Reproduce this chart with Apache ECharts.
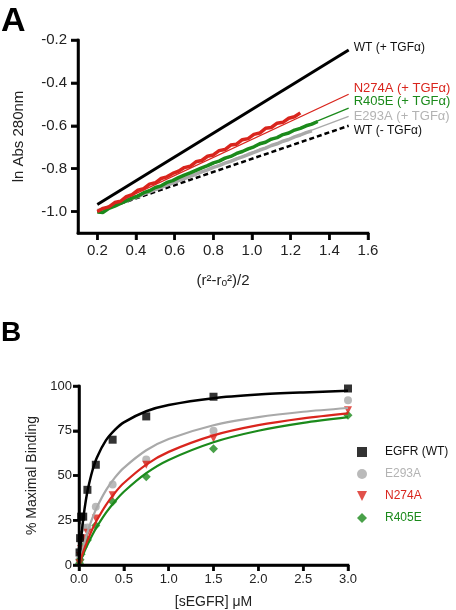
<!DOCTYPE html>
<html><head><meta charset="utf-8">
<script src="https://cdn.jsdelivr.net/npm/echarts@6.0.0/dist/echarts.min.js"></script>
<style>html,body{margin:0;padding:0;background:#fff}#wrap{position:relative;width:456px;height:610px}.layer{position:absolute;left:0;top:0;width:456px;height:610px}</style>
</head><body><div id="wrap"><div class="layer" id="axes"></div><div class="layer" id="marks"></div></div><script>
// ---------- Panel A data ----------
var aXRange = [0.1, 1.6];      // axis line extent
var aXTickRange = [0.2, 1.6];  // labelled tick extent
var aYRange = [-1.1, -0.2];
var aYTickRange = [-1.0, -0.2];
var aTickStep = 0.2;
var aXTicks = [0.2, 0.4, 0.6, 0.8, 1.0, 1.2, 1.4, 1.6];
var aYTicks = [-1.0, -0.8, -0.6, -0.4, -0.2];
var traceX = [0.20,0.23,0.26,0.29,0.32,0.35,0.38,0.41,0.44,0.47,0.50,0.53,0.56,0.59,0.62,0.65,0.68,0.71,0.74,0.77,0.80,0.83,0.86,0.89,0.92,0.95,0.98,1.01,1.04,1.07,1.10,1.13,1.16,1.19,1.22,1.25,1.28,1.31,1.34];
var redTrace = [-1.000,-0.985,-0.978,-0.958,-0.952,-0.930,-0.921,-0.900,-0.893,-0.872,-0.866,-0.846,-0.838,-0.822,-0.812,-0.795,-0.789,-0.768,-0.762,-0.742,-0.736,-0.716,-0.711,-0.690,-0.686,-0.665,-0.660,-0.640,-0.634,-0.612,-0.608,-0.588,-0.584,-0.565,-0.558,-0.540];
var greenTrace = [-1.002,-1.004,-0.985,-0.975,-0.962,-0.950,-0.937,-0.928,-0.912,-0.903,-0.888,-0.880,-0.864,-0.856,-0.842,-0.830,-0.820,-0.808,-0.796,-0.786,-0.773,-0.765,-0.751,-0.743,-0.729,-0.720,-0.708,-0.698,-0.684,-0.677,-0.662,-0.655,-0.641,-0.634,-0.620,-0.612,-0.600,-0.592,-0.580];
var grayTrace = [-0.995,-0.992,-0.978,-0.972,-0.958,-0.951,-0.938,-0.930,-0.918,-0.908,-0.898,-0.887,-0.877,-0.867,-0.856,-0.846,-0.836,-0.826,-0.815,-0.806,-0.794,-0.786,-0.774,-0.766,-0.754,-0.745,-0.734,-0.724,-0.713,-0.704,-0.692,-0.684,-0.672,-0.664,-0.652,-0.643,-0.632,-0.624];
var fitX = [0.2, 1.5];
var fitWTplus = [-0.967, -0.247];
var fitN274A = [-1.0, -0.453];
var fitR405E = [-1.0, -0.518];
var fitE293A = [-0.995, -0.556];
var fitWTminus = [-1.0, -0.600];
var aLabels = ['WT (+ TGF\u03b1)', 'N274A (+ TGF\u03b1)', 'R405E (+ TGF\u03b1)', 'E293A (+ TGF\u03b1)', 'WT (- TGF\u03b1)'];

// ---------- Panel B data ----------
var bXRange = [0, 3.0], bXStep = 0.5;
var bYRange = [0, 100], bYStep = 25;
var bXTicks = [0, 0.5, 1.0, 1.5, 2.0, 2.5, 3.0];
var bYTicks = [0, 25, 50, 75, 100];
var conc = [0.0059, 0.0117, 0.0234, 0.0469, 0.0938, 0.1875, 0.375, 0.75, 1.5, 3.0];
var wtPts    = [7, 15, 27, 27, 42, 56, 70, 83, 94, 98.6];
var e293aPts = [3, 8, 14, 21, 21, 32.5, 45, 59, 75, 92];
var n274aPts = [1, 5, 9, 15, 18, 26, 39, 56, 70.7, 86.5];
var r405ePts = [1, 3, 6, 10, 14, 22, 35.3, 49.3, 65, 83.7];
var curveX = [0, 0.01, 0.025, 0.05, 0.075, 0.1, 0.15, 0.2, 0.3, 0.4, 0.5, 0.75, 1.0, 1.5, 2.0, 2.5, 3.0];
var wtCurve    = [0, 6.8, 15.5, 26.9, 35.7, 42.6, 52.8, 60.1, 69.6, 75.5, 79.7, 85.9, 89.4, 93.2, 95.2, 96.4, 97.3];
var e293aCurve = [0, 2.3, 5.6, 10.6, 15.1, 19.2, 26.3, 32.3, 41.7, 48.8, 54.3, 64.1, 70.4, 78.1, 82.6, 85.6, 87.7];
var n274aCurve = [0, 1.6, 4.0, 7.7, 11.1, 14.3, 20.1, 25.1, 33.5, 40.3, 45.8, 56.1, 63.2, 72.4, 78.1, 81.9, 84.7];
var r405eCurve = [0, 1.3, 3.3, 6.3, 9.2, 11.9, 16.9, 21.4, 29.1, 35.5, 40.9, 51.3, 58.7, 68.6, 75.0, 79.4, 82.6];
var bNames = ['EGFR (WT)', 'E293A', 'N274A', 'R405E'];

var FONT = 'Arial, "Liberation Sans", Helvetica, sans-serif';
var BLACK = '#000000', RED = '#d9251d', GREEN = '#1b8a1b', GRAY = '#a9a9a9', GRAYTXT = '#b3b3b3';

function zip(xs, ys) { var o = []; for (var i = 0; i < ys.length; i++) o.push([xs[i], ys[i]]); return o; }
function fmt1(v) { return v.toFixed(1); }

// ---------- geometry ----------
var GA = { left: 78, top: 40, width: 290, height: 193 };
var GB = { left: 79, top: 386, width: 269, height: 179 };
var pxPerX = GA.width / (aXRange[1] - aXRange[0]);
var pxPerY = GA.height / (aYRange[1] - aYRange[0]);
var dxA = (aXTickRange[0] - aXRange[0]) * pxPerX;
var dyA = (aYTickRange[0] - aYRange[0]) * pxPerY;
var GAX = { left: GA.left + dxA, top: GA.top, width: GA.width - dxA, height: GA.height };
var GAY = { left: GA.left, top: GA.top, width: GA.width, height: GA.height - dyA };

function line() { return { show: true, lineStyle: { color: '#000', width: 2.5 } }; }
function tick(len) { return { show: true, length: len, lineStyle: { color: '#000', width: 2.5 } }; }
function lbl(fs, margin, f) { var o = { show: true, color: '#222', fontSize: fs, fontFamily: FONT, margin: margin }; if (f) o.formatter = f; return o; }
function no() { return { show: false }; }
function hiddenAxis(gi, mn, mx) {
  return { gridIndex: gi, type: 'value', min: mn, max: mx, show: false, axisLine: no(), axisTick: no(), axisLabel: no(), splitLine: no() };
}

// ---------- layer 1: axis labels and names ----------
var axesChart = echarts.init(document.getElementById('axes'));
axesChart.setOption({
  animation: false,
  grid: [GA, GAX, GAY, GB],
  xAxis: [
    { gridIndex: 0, type: 'value', min: aXRange[0], max: aXRange[1],
      axisLine: line(), axisTick: no(), axisLabel: no(), splitLine: no(),
      name: '(r\u00b2-r\u2092\u00b2)/2', nameLocation: 'middle', nameGap: 40,
      nameTextStyle: { fontSize: 15, fontFamily: FONT, color: '#222' } },
    { gridIndex: 1, type: 'value', min: aXTickRange[0], max: aXTickRange[1], interval: aTickStep,
      axisLine: no(), axisTick: tick(7), axisLabel: lbl(15, 10, fmt1), splitLine: no() },
    hiddenAxis(2, aXRange[0], aXRange[1]),
    { gridIndex: 3, type: 'value', min: bXRange[0], max: bXRange[1], interval: bXStep,
      axisLine: line(), axisTick: tick(6), axisLabel: lbl(13, 8, fmt1), splitLine: no(),
      name: '[sEGFR] \u03bcM', nameLocation: 'middle', nameGap: 30,
      nameTextStyle: { fontSize: 14, fontFamily: FONT, color: '#222' } }
  ],
  yAxis: [
    { gridIndex: 0, type: 'value', min: aYRange[0], max: aYRange[1],
      axisLine: line(), axisTick: no(), axisLabel: no(), splitLine: no(),
      name: 'ln Abs 280nm', nameLocation: 'middle', nameGap: 52,
      nameTextStyle: { fontSize: 15, fontFamily: FONT, color: '#222' } },
    hiddenAxis(1, aYRange[0], aYRange[1]),
    { gridIndex: 2, type: 'value', min: aYTickRange[0], max: aYTickRange[1], interval: aTickStep,
      axisLine: no(), axisTick: tick(7), axisLabel: lbl(15, 11, fmt1), splitLine: no() },
    { gridIndex: 3, type: 'value', min: bYRange[0], max: bYRange[1], interval: bYStep,
      axisLine: line(), axisTick: tick(6), axisLabel: lbl(13, 7), splitLine: no(),
      name: '% Maximal Binding', nameLocation: 'middle', nameGap: 33,
      nameTextStyle: { fontSize: 14, fontFamily: FONT, color: '#222' } }
  ]
});

// ---------- layer 2: marks, axis lines/ticks, labels, legend ----------
function endLbl(text, color, dy, fs) {
  return { show: true, formatter: function () { return text; }, color: color, fontSize: fs, fontFamily: FONT, distance: 5, offset: [0, dy] };
}
function axisLineSeries(xi, p0, p1) {
  return { type: 'line', xAxisIndex: xi, yAxisIndex: xi, data: [p0, p1], showSymbol: false, silent: true, clip: false, z: 6,
    lineStyle: { color: '#000', width: 2.5, cap: 'square' } };
}
function tickSeries(xi, pts, size, off) {
  return { type: 'scatter', xAxisIndex: xi, yAxisIndex: xi, data: pts, symbol: 'rect', symbolSize: size, symbolOffset: off,
    silent: true, clip: false, z: 6, itemStyle: { color: '#000' } };
}
function at(vals, fixed, isX) { return vals.map(function (v) { return isX ? [v, fixed] : [fixed, v]; }); }

var marksChart = echarts.init(document.getElementById('marks'));
marksChart.setOption({
  animation: false,
  backgroundColor: 'transparent',
  graphic: [
    { type: 'text', left: 1, top: 5, style: { text: 'A', font: 'bold 34px ' + FONT, fill: '#000' } },
    { type: 'text', left: 1, top: 319, style: { text: 'B', font: 'bold 28px ' + FONT, fill: '#000' } }
  ],
  grid: [GA, GB],
  xAxis: [hiddenAxis(0, aXRange[0], aXRange[1]), hiddenAxis(1, bXRange[0], bXRange[1])],
  yAxis: [hiddenAxis(0, aYRange[0], aYRange[1]), hiddenAxis(1, bYRange[0], bYRange[1])],
  legend: {
    orient: 'vertical', left: 352, top: 441, itemGap: 10, itemWidth: 10, itemHeight: 10,
    textStyle: { fontSize: 12, fontFamily: FONT, padding: [0, 0, 0, 13] },
    data: [
      { name: bNames[0], icon: 'rect', itemStyle: { color: BLACK }, textStyle: { color: '#111' } },
      { name: bNames[1], icon: 'circle', itemStyle: { color: GRAY }, textStyle: { color: GRAYTXT } },
      { name: bNames[2], icon: 'path://M0,0 L10,0 L5,10 Z', itemStyle: { color: RED }, textStyle: { color: RED } },
      { name: bNames[3], icon: 'diamond', itemStyle: { color: GREEN }, textStyle: { color: GREEN } }
    ]
  },
  series: [
    // axis lines and ticks (driven by axis ranges and tick arrays)
    axisLineSeries(0, [aXRange[0], aYRange[0]], [aXRange[1], aYRange[0]]),
    axisLineSeries(0, [aXRange[0], aYRange[0]], [aXRange[0], aYRange[1]]),
    tickSeries(0, at(aXTicks, aYRange[0], true), [2.5, 7], [0, 3.5]),
    tickSeries(0, at(aYTicks, aXRange[0], false), [7, 2.5], [-3.5, 0]),
    axisLineSeries(1, [bXRange[0], bYRange[0]], [bXRange[1], bYRange[0]]),
    axisLineSeries(1, [bXRange[0], bYRange[0]], [bXRange[0], bYRange[1]]),
    tickSeries(1, at(bXTicks, bYRange[0], true), [2.5, 6], [0, 3]),
    tickSeries(1, at(bYTicks, bXRange[0], false), [6, 2.5], [-3, 0]),
    // Panel A
    { type: 'line', xAxisIndex: 0, yAxisIndex: 0, data: zip(fitX, fitWTminus), showSymbol: false, silent: true,
      lineStyle: { color: BLACK, width: 2.5, type: [5, 3] }, endLabel: endLbl(aLabels[4], '#111', 5, 12) },
    { type: 'line', xAxisIndex: 0, yAxisIndex: 0, data: zip(fitX, fitE293A), showSymbol: false, silent: true,
      lineStyle: { color: GRAY, width: 1.3 }, endLabel: endLbl(aLabels[3], GRAYTXT, 0, 13) },
    { type: 'line', xAxisIndex: 0, yAxisIndex: 0, data: zip(traceX, grayTrace), showSymbol: false, silent: true,
      lineStyle: { color: GRAY, width: 3.5 } },
    { type: 'line', xAxisIndex: 0, yAxisIndex: 0, data: zip(fitX, fitR405E), showSymbol: false, silent: true,
      lineStyle: { color: GREEN, width: 1.3 }, endLabel: endLbl(aLabels[2], GREEN, -7, 13) },
    { type: 'line', xAxisIndex: 0, yAxisIndex: 0, data: zip(traceX, greenTrace), showSymbol: false, silent: true,
      lineStyle: { color: GREEN, width: 3.5 } },
    { type: 'line', xAxisIndex: 0, yAxisIndex: 0, data: zip(fitX, fitN274A), showSymbol: false, silent: true,
      lineStyle: { color: RED, width: 1.3 }, endLabel: endLbl(aLabels[1], RED, -6, 13) },
    { type: 'line', xAxisIndex: 0, yAxisIndex: 0, data: zip(traceX, redTrace), showSymbol: false, silent: true,
      lineStyle: { color: RED, width: 3.5 } },
    { type: 'line', xAxisIndex: 0, yAxisIndex: 0, data: zip(fitX, fitWTplus), showSymbol: false, silent: true,
      lineStyle: { color: BLACK, width: 3 }, endLabel: endLbl(aLabels[0], '#111', -2, 12) },
    // Panel B curves
    { type: 'line', xAxisIndex: 1, yAxisIndex: 1, data: zip(curveX, e293aCurve), smooth: 0.3, showSymbol: false, silent: true, lineStyle: { color: GRAY, width: 2.2 } },
    { type: 'line', xAxisIndex: 1, yAxisIndex: 1, data: zip(curveX, r405eCurve), smooth: 0.3, showSymbol: false, silent: true, lineStyle: { color: GREEN, width: 2.2 } },
    { type: 'line', xAxisIndex: 1, yAxisIndex: 1, data: zip(curveX, n274aCurve), smooth: 0.3, showSymbol: false, silent: true, lineStyle: { color: RED, width: 2.2 } },
    { type: 'line', xAxisIndex: 1, yAxisIndex: 1, data: zip(curveX, wtCurve), smooth: 0.3, showSymbol: false, silent: true, lineStyle: { color: BLACK, width: 2.5 } },
    // Panel B points
    { name: bNames[1], type: 'scatter', xAxisIndex: 1, yAxisIndex: 1, data: zip(conc, e293aPts), symbol: 'circle', symbolSize: 8, itemStyle: { color: GRAY } },
    { name: bNames[3], type: 'scatter', xAxisIndex: 1, yAxisIndex: 1, data: zip(conc, r405ePts), symbol: 'diamond', symbolSize: 9, itemStyle: { color: GREEN } },
    { name: bNames[2], type: 'scatter', xAxisIndex: 1, yAxisIndex: 1, data: zip(conc, n274aPts), symbol: 'path://M0,0 L10,0 L5,10 Z', symbolSize: 8, itemStyle: { color: RED } },
    { name: bNames[0], type: 'scatter', xAxisIndex: 1, yAxisIndex: 1, data: zip(conc, wtPts), symbol: 'rect', symbolSize: 8, itemStyle: { color: BLACK } }
  ]
});
</script></body></html>
